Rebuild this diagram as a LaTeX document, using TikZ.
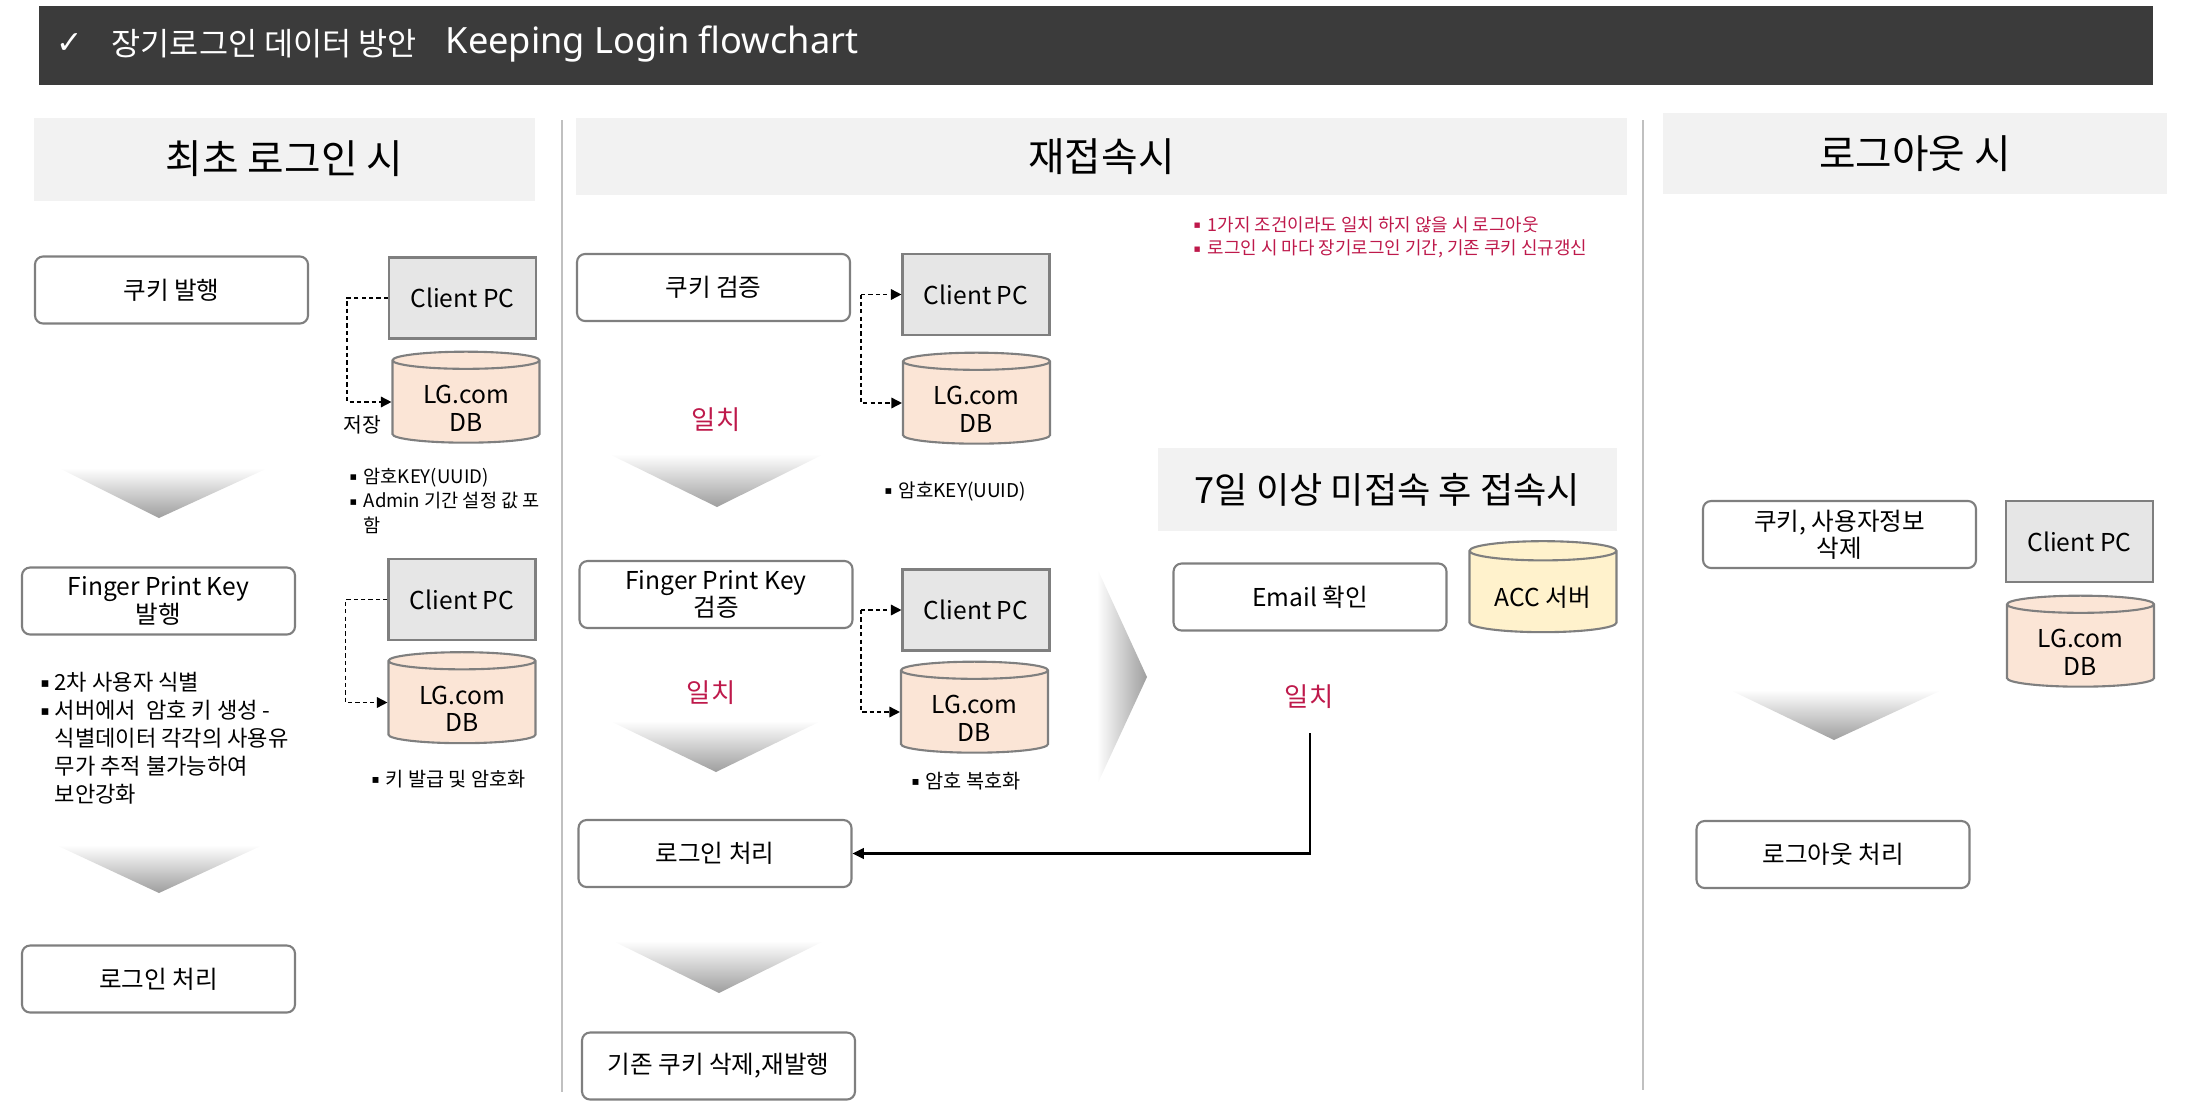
\documentclass[tikz,border=0pt]{standalone}
\usepackage{fontspec}
\usepackage{graphicx}
\setmainfont{Noto Sans CJK KR}
\newfontfamily\latinfont{Noto Sans}
\newfontfamily\symbolfont{DejaVu Sans}
\usepackage{tikz}
\usetikzlibrary{shapes.geometric, arrows.meta, positioning}

\definecolor{barGray}{HTML}{3B3B3B}
\definecolor{headGray}{HTML}{F2F2F2}
\definecolor{edgeGray}{HTML}{7F7F7F}
\definecolor{pcGray}{HTML}{E6E6E6}
\definecolor{dbPeach}{HTML}{FBE5D6}
\definecolor{accYellow}{HTML}{FFF2CC}
\definecolor{matchRed}{RGB}{190,25,75}
\definecolor{sepGray}{HTML}{C0C0C0}

\newcommand{\notebul}{\makebox[1.4mm][l]{\raisebox{0.25ex}{\scalebox{0.6}{\symbolfont ▪}}}}
\newcommand{\dbpush}{\rule{0pt}{8.8pt}}

\begin{document}
\begin{tikzpicture}
  [
    x=0.1mm, y=-0.1mm,
    Head/.style={rectangle, fill=headGray, inner sep=0pt, font=\fontsize{11.3}{13}\selectfont},
    Step/.style={rectangle, rounded corners=2.3pt, draw=edgeGray, line width=0.6pt, minimum width=27.3mm, minimum height=6.7mm, inner sep=0pt, align=center, font=\fontsize{7}{7.8}\selectfont},
    Client/.style={rectangle, draw=edgeGray, fill=pcGray, line width=0.6pt, minimum width=14.7mm, minimum height=8.1mm, font=\fontsize{7}{7.8}\selectfont},
    Store/.style={cylinder, shape border rotate=90, aspect=0.2, draw=edgeGray, fill=dbPeach, line width=0.6pt, minimum width=14.7mm, minimum height=9.1mm, inner sep=0pt, align=center, font=\fontsize{7}{7.8}\selectfont},
    Match/.style={text=matchRed, font=\fontsize{7.5}{9}\selectfont},
    Note/.style={anchor=base west, inner sep=0pt},
    Link/.style={dash pattern=on 1.2pt off 0.9pt, line width=0.45pt, -{Triangle[length=3pt, width=3pt]}},
    Back/.style={line width=0.6pt, -{Triangle[length=3.2pt, width=3pt]}},
    Fall/.style={top color=white, bottom color=black!38},
    Push/.style={left color=white, right color=black!38}
  ]
  \useasboundingbox (0,0) rectangle (2209,1119);

  % Title bar
  \fill[barGray] (39,6) rectangle (2153,85);
  \node[text=white, inner sep=0pt, font=\symbolfont\fontsize{9}{10}\selectfont] (tick) at (70,44) {✓};
  \node[anchor=west, inner sep=0pt, text=white, font=\fontsize{9}{10}\selectfont] (titleKo) at (111,44) {장기로그인 데이터 방안};
  \node[anchor=west, inner sep=0pt, text=white, font=\latinfont\fontsize{10.3}{12}\selectfont] (titleEn) at (445,44) {Keeping Login flowchart};

  % Headers
  \node[Head, minimum width=50.1mm, minimum height=8.3mm] (headFirst) at (284.5,159) {최초 로그인 시};
  \node[Head, minimum width=105.1mm, minimum height=7.7mm] (headAgain) at (1101.5,156.5) {재접속시};
  \node[Head, minimum width=50.4mm, minimum height=8.1mm] (headOut) at (1915,153.5) {로그아웃 시};
  \node[Head, minimum width=45.9mm, minimum height=8.3mm, font=\fontsize{10.3}{12}\selectfont] (headIdle) at (1387.5,489.5) {7일 이상 미접속 후 접속시};

  % Separators
  \draw[sepGray, line width=0.8pt] (562,120) -- (562,1092);
  \draw[sepGray, line width=0.8pt] (1643,120) -- (1643,1090);

  % First login
  \node[Step] (cookieIssue) at (171.5,290) {쿠키 발행};
  \node[Client] (pcA) at (462.5,298) {Client PC};
  \node[Store] (dbA) at (466,402) {\dbpush LG.com\\DB};
  \node[inner sep=0pt, font=\fontsize{5.8}{7}\selectfont] (saveTag) at (362,425) {저장};
  \node[Note, font=\fontsize{5.3}{7.1}\selectfont] (noteA) at (349,483)
    {\begin{tabular}[t]{@{}l@{}l@{}} \notebul & 암호KEY(UUID)\\ \notebul & Admin 기간 설정 값 포\\ & 함 \end{tabular}};
  \shade[Fall] (59,468) -- (268,468) -- (159,518) -- cycle;
  \node[Step] (printIssue) at (158.5,601) {Finger Print Key\\발행};
  \node[Client] (pcB) at (462,599.5) {Client PC};
  \node[Store] (dbB) at (462,702.5) {\dbpush LG.com\\DB};
  \node[Note, font=\fontsize{6.3}{8}\selectfont] (noteB) at (40,690)
    {\begin{tabular}[t]{@{}l@{}l@{}} \notebul & 2차 사용자 식별\\ \notebul & 서버에서 \ 암호 키 생성 -\\ & 식별데이터 각각의 사용유\\ & 무가 추적 불가능하여\\ & 보안강화 \end{tabular}};
  \node[Note, font=\fontsize{5.6}{7}\selectfont] (noteC) at (371,786) {\notebul 키 발급 및 암호화};
  \shade[Fall] (56,845) -- (263,845) -- (159,893) -- cycle;
  \node[Step] (loginA) at (158.5,979) {로그인 처리};

  \draw[Link] (pcA.west) -- ++(-41,0) |- (dbA.west);
  \draw[Link] (pcB.west) -- ++(-42,0) |- (dbB.west);

  % Reconnect
  \node[Step] (cookieCheck) at (713.5,287.5) {쿠키 검증};
  \node[Client] (pcC) at (976,294.5) {Client PC};
  \node[Store] (dbC) at (976.5,403) {\dbpush LG.com\\DB};
  \coordinate (forkC) at (861,294.5);
  \node[Match] (matchA) at (716,420) {일치};
  \shade[Fall] (609,454) -- (824,454) -- (717,507) -- cycle;
  \node[Note, font=\fontsize{5.4}{7}\selectfont] (noteD) at (884,497) {\notebul 암호KEY(UUID)};
  \node[Step] (printCheck) at (716,594.5) {Finger Print Key\\검증};
  \node[Client] (pcD) at (976,610) {Client PC};
  \node[Store] (dbD) at (974.5,712) {\dbpush LG.com\\DB};
  \coordinate (forkD) at (861,610);
  \node[Match] (matchB) at (711,693) {일치};
  \shade[Fall] (610,721) -- (821,721) -- (716,772) -- cycle;
  \node[Note, font=\fontsize{5.6}{7}\selectfont] (noteE) at (911,788) {\notebul 암호 복호화};
  \node[Step] (loginB) at (715,853.5) {로그인 처리};
  \shade[Fall] (613,941) -- (824,941) -- (719,993) -- cycle;
  \node[Step] (reissue) at (718.5,1066) {기존 쿠키 삭제,재발행};
  \shade[Push] (1097,568) -- (1147,677) -- (1097,785) -- cycle;

  \draw[Link] (forkC) -- (pcC.west);
  \draw[Link] (forkC) |- (dbC.west);
  \draw[Link] (forkD) -- (pcD.west);
  \draw[Link] (forkD) |- (dbD.west);

  % After 7 days
  \node[Note, text=matchRed, font=\fontsize{5.1}{6.8}\selectfont] (ruleNote) at (1193,231)
    {\begin{tabular}[t]{@{}l@{}l@{}} \notebul & 1가지 조건이라도 일치 하지 않을 시 로그아웃\\ \notebul & 로그인 시 마다 장기로그인 기간, 기존 쿠키 신규갱신 \end{tabular}};
  \node[Step] (mailCheck) at (1310,597) {Email 확인};
  \node[Store, fill=accYellow] (accServer) at (1543,592) {\dbpush ACC 서버};
  \node[Match] (matchC) at (1309,697) {일치};
  \coordinate (mailOk) at (1310,733);
  \draw[Back] (mailOk) |- (loginB.east);

  % Logout
  \node[Step] (wipeInfo) at (1839.5,534.5) {쿠키, 사용자정보\\삭제};
  \node[Client] (pcE) at (2079.5,541.5) {Client PC};
  \node[Store] (dbE) at (2080.5,646) {\dbpush LG.com\\DB};
  \shade[Fall] (1730,690) -- (1942,690) -- (1834,740) -- cycle;
  \node[Step] (logout) at (1833,854.5) {로그아웃 처리};
\end{tikzpicture}
\end{document}
